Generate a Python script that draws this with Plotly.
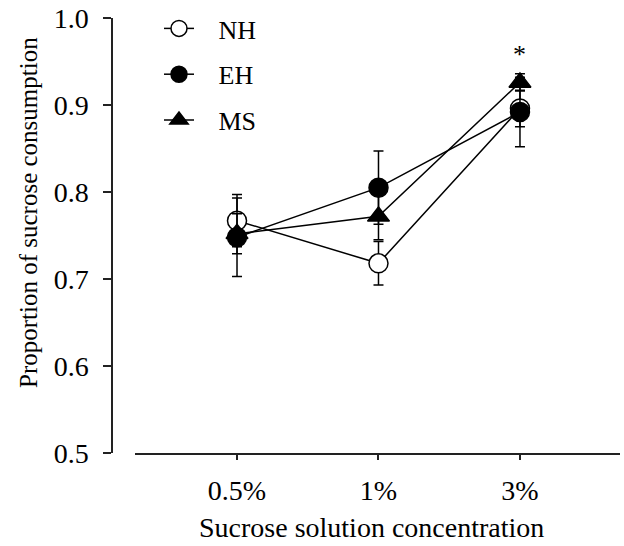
import plotly.graph_objects as go

categories = ["0.5%", "1%", "3%"]
x_pos = [0, 1, 2]

nh_mean = [0.767, 0.718, 0.896]
nh_err = [0.030, 0.025, 0.021]
eh_mean = [0.748, 0.805, 0.892]
eh_err = [0.045, 0.042, 0.040]
ms_mean = [0.752, 0.772, 0.926]
ms_err = [0.023, 0.027, 0.010]

star_x = 2
star_y = 0.958

FONT = "Liberation Serif, Times New Roman, serif"
W, H = 624, 546
ML, MR, MT, MB = 112, 4, 18, 93
NBSP = "\u00a0"

fig = go.Figure()

def add(name, mean, err, symbol, fill, rank):
    fig.add_trace(go.Scatter(
        x=x_pos, y=mean, name=NBSP * 3 + name, mode="lines+markers",
        line=dict(color="black", width=1.5),
        marker=dict(symbol=symbol, size=19, color=fill,
                    line=dict(color="black", width=1.5)),
        error_y=dict(type="data", array=err, visible=True,
                     color="black", thickness=1.5, width=5),
        legendrank=rank, legendgroup=name,
    ))

add("NH", nh_mean, nh_err, "circle", "white", 1)
add("MS", ms_mean, ms_err, "triangle-up", "black", 3)
add("EH", eh_mean, eh_err, "circle", "black", 2)

plot_w = W - ML - MR
plot_h = H - MT - MB
x_start_px = 135
fig.update_layout(
    width=W, height=H,
    margin=dict(l=ML, r=MR, t=MT, b=MB),
    paper_bgcolor="white", plot_bgcolor="white",
    font=dict(family=FONT, size=26, color="black"),
    showlegend=True,
    legend=dict(x=(159 - ML) / plot_w, y=1.0 + 13 / plot_h, xanchor="left", yanchor="top",
                bgcolor="rgba(0,0,0,0)", tracegroupgap=9,
                font=dict(family=FONT, size=26), itemsizing="trace"),
    xaxis=dict(domain=[(x_start_px - ML) / plot_w, 1], range=[-0.721, 2.707],
               tickvals=x_pos, ticktext=categories, showgrid=False, zeroline=False,
               showline=True, linecolor="#222", linewidth=1.5,
               ticks="outside", ticklen=5, tickwidth=1.5, tickcolor="#222",
               ticklabelstandoff=7, tickfont=dict(size=28)),
    yaxis=dict(range=[0.5, 1.0], tickvals=[0.5, 0.6, 0.7, 0.8, 0.9, 1.0],
               ticktext=["0.5", "0.6", "0.7", "0.8", "0.9", "1.0"],
               anchor="free", position=0, showgrid=False, zeroline=False,
               showline=True, linecolor="#222", linewidth=1.5,
               ticks="outside", ticklen=8, tickwidth=1.5, tickcolor="#222",
               ticklabelstandoff=9, tickfont=dict(size=28)),
)

fig.add_annotation(x=star_x, y=star_y, xref="x", yref="y", text="*",
                   showarrow=False, font=dict(family=FONT, size=26),
                   xanchor="center", yanchor="middle")
fig.add_annotation(x=(371 - ML) / plot_w, y=-(H - 1 - (H - MB)) / plot_h,
                   xref="paper", yref="paper", text="Sucrose solution concentration",
                   showarrow=False, font=dict(family=FONT, size=28),
                   xanchor="center", yanchor="bottom")
fig.add_annotation(x=-(ML - 28) / plot_w, y=(H - MB - 213) / plot_h,
                   xref="paper", yref="paper", text="Proportion of sucrose consumption",
                   showarrow=False, textangle=-90, font=dict(family=FONT, size=25),
                   xanchor="center", yanchor="middle")

fig.write_html("out.html")
